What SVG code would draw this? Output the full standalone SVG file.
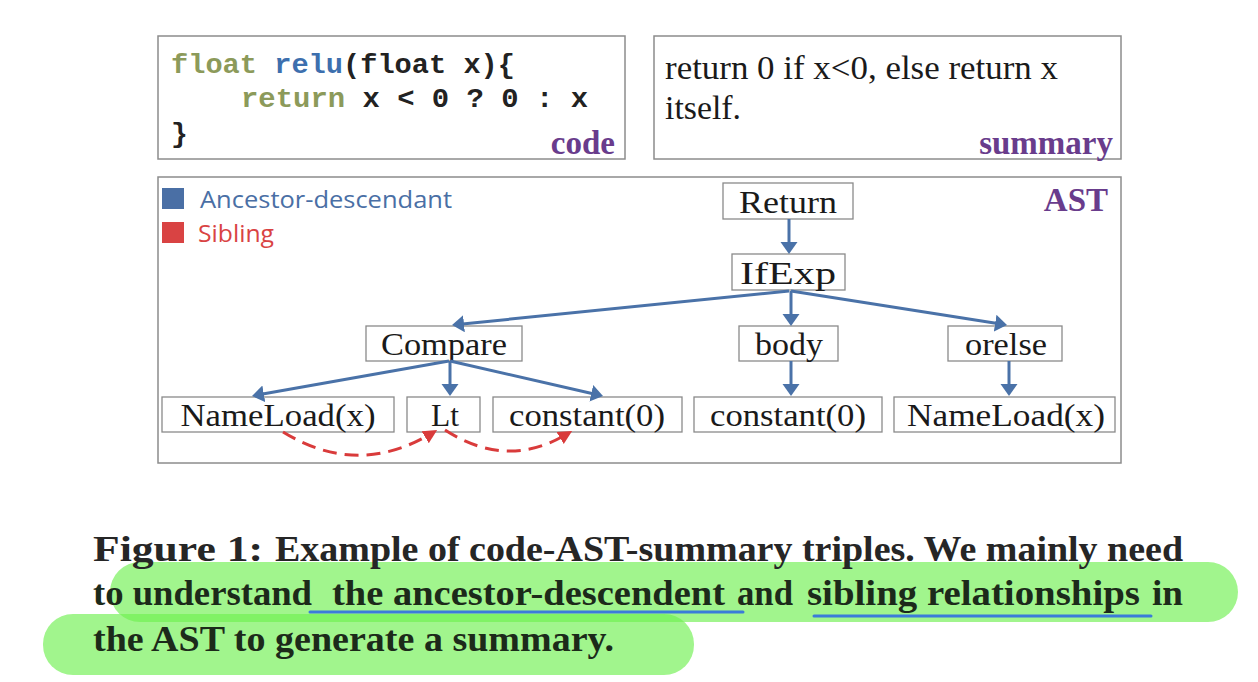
<svg xmlns="http://www.w3.org/2000/svg" width="1258" height="682" viewBox="0 0 1258 682">
<style>
.box{fill:#fff;stroke:#8c8c8c;stroke-width:1.5}
.node{fill:#fff;stroke:#8a8a8a;stroke-width:1.3}
.nt{font-family:"Liberation Serif","Times New Roman",serif;font-size:31px;fill:#1a1a1a;text-anchor:middle}
.code{font-family:"Liberation Mono","Courier New",monospace;font-weight:bold;font-size:28px;fill:#222}
.kw{fill:#8c9a5a}
.fn{fill:#3d6fae}
.lab{font-family:"Liberation Serif","Times New Roman",serif;font-weight:bold;font-size:33px;fill:#693c8c;text-anchor:end}
.sum{font-family:"Liberation Serif","Times New Roman",serif;font-size:34px;fill:#1a1a1a}
.leg{font-family:"Open Sans","Liberation Sans",sans-serif;font-size:24px}
.ad{stroke:#4a72a8;stroke-width:3;fill:none;marker-end:url(#ab)}
.sib{stroke:#d93b3b;stroke-width:3;fill:none;stroke-dasharray:14 8;marker-end:url(#ar)}
.cap{font-family:"Liberation Serif","Times New Roman",serif;font-weight:bold;font-size:35px}
.hl{fill:rgb(110,240,80);opacity:0.65}
.ul{stroke:#3b7bd9;stroke-width:3;stroke-linecap:round}
</style>
<defs>
<marker id="ab" markerUnits="userSpaceOnUse" markerWidth="14" markerHeight="18" refX="4" refY="8.5" orient="auto">
<path d="M0,0 L12,8.5 L0,17 z" fill="#4a72a8"/>
</marker>
<marker id="ar" markerUnits="userSpaceOnUse" markerWidth="16" markerHeight="16" refX="8" refY="7" orient="auto">
<path d="M0,0 L14,7 L0,14 z" fill="#d93b3b"/>
</marker>
</defs>
<rect width="1258" height="682" fill="#fff"/>

<g id="code-panel">
<rect class="box" x="158" y="36" width="467" height="123"/>
<text class="code" x="171" y="73" textLength="344" lengthAdjust="spacingAndGlyphs"><tspan class="kw">float</tspan> <tspan class="fn">relu</tspan>(float x){</text>
<text class="code" x="241" y="107" textLength="347" lengthAdjust="spacingAndGlyphs"><tspan class="kw">return</tspan> x &lt; 0 ? 0 : x</text>
<text class="code" x="171" y="142">}</text>
<text class="lab" x="615" y="154">code</text>
</g>

<g id="summary-panel">
<rect class="box" x="654" y="36" width="467" height="123"/>
<text class="sum" x="665" y="79" textLength="393" lengthAdjust="spacingAndGlyphs">return 0 if x&lt;0, else return x</text>
<text class="sum" x="665" y="119" textLength="76" lengthAdjust="spacingAndGlyphs">itself.</text>
<text class="lab" x="1113" y="154">summary</text>
</g>

<g id="ast-panel">
<rect class="box" x="158" y="177" width="963" height="286"/>
<text class="lab" x="1108" y="211">AST</text>
</g>

<g id="legend">
<rect x="162" y="188" width="22" height="21" fill="#4a6fa5"/>
<text class="leg" x="200" y="208" fill="#4a6fa5" textLength="252" lengthAdjust="spacingAndGlyphs">Ancestor-descendant</text>
<rect x="162" y="222" width="22" height="21" fill="#d94343"/>
<text class="leg" x="198" y="242" fill="#d94343" textLength="76" lengthAdjust="spacingAndGlyphs">Sibling</text>
</g>

<g id="node-return"><rect class="node" x="723" y="183" width="130" height="36"/><text class="nt" x="788" y="213" textLength="98" lengthAdjust="spacingAndGlyphs">Return</text></g>
<g id="node-ifexp"><rect class="node" x="732" y="254" width="113" height="36"/><text class="nt" x="788" y="284" textLength="96" lengthAdjust="spacingAndGlyphs">IfExp</text></g>
<g id="node-compare"><rect class="node" x="366" y="326" width="156" height="35"/><text class="nt" x="444" y="355" textLength="126" lengthAdjust="spacingAndGlyphs">Compare</text></g>
<g id="node-body"><rect class="node" x="739" y="326" width="99" height="35"/><text class="nt" x="789" y="355" textLength="68" lengthAdjust="spacingAndGlyphs">body</text></g>
<g id="node-orelse"><rect class="node" x="948" y="326" width="114" height="35"/><text class="nt" x="1006" y="355" textLength="82" lengthAdjust="spacingAndGlyphs">orelse</text></g>
<g id="node-nameload1"><rect class="node" x="162" y="397" width="232" height="35"/><text class="nt" x="278" y="426" textLength="195" lengthAdjust="spacingAndGlyphs">NameLoad(x)</text></g>
<g id="node-lt"><rect class="node" x="407" y="397" width="73" height="35"/><text class="nt" x="445" y="426" textLength="28" lengthAdjust="spacingAndGlyphs">Lt</text></g>
<g id="node-constant1"><rect class="node" x="493" y="397" width="189" height="35"/><text class="nt" x="587" y="426" textLength="156" lengthAdjust="spacingAndGlyphs">constant(0)</text></g>
<g id="node-constant2"><rect class="node" x="694" y="397" width="188" height="35"/><text class="nt" x="788" y="426" textLength="156" lengthAdjust="spacingAndGlyphs">constant(0)</text></g>
<g id="node-nameload2"><rect class="node" x="894" y="397" width="221" height="35"/><text class="nt" x="1006" y="426" textLength="198" lengthAdjust="spacingAndGlyphs">NameLoad(x)</text></g>

<g id="connectors">
<path class="ad" d="M789,219 L789,246"/>
<path class="ad" d="M789,291 L460,324.2"/>
<path class="ad" d="M791,291 L791,318"/>
<path class="ad" d="M791,291 L999.1,323.8"/>
<path class="ad" d="M449,361 L259.9,394.6"/>
<path class="ad" d="M450,361 L450,388"/>
<path class="ad" d="M450,361 L595.2,394.2"/>
<path class="ad" d="M791,361 L791,388"/>
<path class="ad" d="M1009,361 L1009,388"/>
<path class="sib" d="M283,432 Q358,478 432,433"/>
<path class="sib" d="M445,430 Q507,470 567,434"/>
</g>

<g id="caption">
<rect class="hl" x="110" y="562" width="1128" height="60" rx="30"/>
<rect class="hl" x="43" y="614" width="651" height="61" rx="30"/>
<line class="ul" x1="310" y1="612" x2="743" y2="612"/>
<line class="ul" x1="814" y1="616" x2="1151" y2="616"/>
<text class="cap" x="93" y="561" fill="#262626" textLength="170" lengthAdjust="spacingAndGlyphs">Figure 1:</text>
<text class="cap" x="275" y="561" fill="#262626" textLength="908" lengthAdjust="spacingAndGlyphs">Example of code-AST-summary triples. We mainly need</text>
<text class="cap" x="93" y="605" fill="#1c2a1a" textLength="219" lengthAdjust="spacingAndGlyphs">to understand</text>
<text class="cap" x="332" y="605" fill="#1c2a1a" textLength="393" lengthAdjust="spacingAndGlyphs">the ancestor-descendent</text>
<text class="cap" x="737" y="605" fill="#1c2a1a" textLength="56" lengthAdjust="spacingAndGlyphs">and</text>
<text class="cap" x="807" y="605" fill="#1c2a1a" textLength="333" lengthAdjust="spacingAndGlyphs">sibling relationships</text>
<text class="cap" x="1152" y="605" fill="#1c2a1a" textLength="31" lengthAdjust="spacingAndGlyphs">in</text>
<text class="cap" x="93" y="651" fill="#1c2a1a" textLength="521" lengthAdjust="spacingAndGlyphs">the AST to generate a summary.</text>
</g>
</svg>
